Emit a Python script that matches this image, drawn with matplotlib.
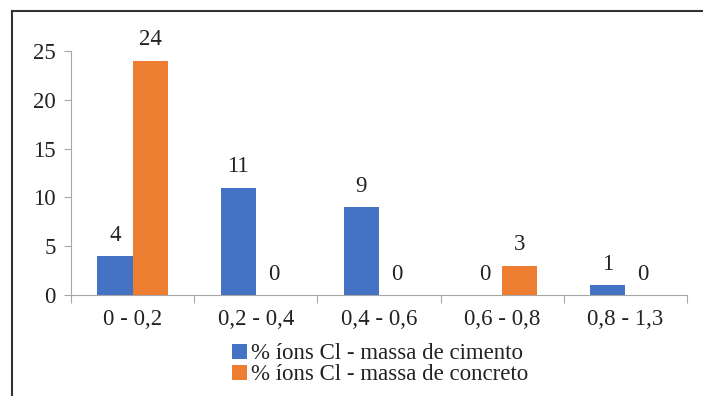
import matplotlib.pyplot as plt
import numpy as np
from matplotlib.lines import Line2D

plt.rcParams['font.family'] = ['Liberation Serif', 'DejaVu Serif']

categories = ["0 - 0,2", "0,2 - 0,4", "0,4 - 0,6", "0,6 - 0,8", "0,8 - 1,3"]
cimento = [4, 11, 9, 0, 1]
concreto = [24, 0, 0, 3, 0]
labels = ["% íons Cl - massa de cimento", "% íons Cl - massa de concreto"]
colors = ["#4472C4", "#ED7D31"]
fs = 16.5

fig = plt.figure(figsize=(7.03, 3.96), dpi=100)
ax = fig.add_axes([71 / 703, 1 - 295 / 396, 616 / 703, 244 / 396])

x = np.arange(len(categories))
w = 0.285
b1 = ax.bar(x - w / 2, cimento, w, color=colors[0], label=labels[0])
b2 = ax.bar(x + w / 2, concreto, w, color=colors[1], label=labels[1])
for bars in (b1, b2):
    for r in bars:
        ax.annotate(str(int(r.get_height())),
                    (r.get_x() + r.get_width() / 2, r.get_height()),
                    xytext=(0, 7.5), textcoords="offset points",
                    ha="center", va="bottom", fontsize=fs, color="#222222")

ax.set_xlim(-0.5, len(categories) - 0.5)
ax.set_ylim(0, 25)
ax.set_yticks([0, 5, 10, 15, 20, 25])
ax.set_xticks(np.arange(len(categories) + 1) - 0.5, minor=False)
ax.set_xticklabels([])
ax.set_xticks(x, minor=True)
ax.set_xticklabels(categories, minor=True)
ax.tick_params(axis="x", which="major", length=6, color="#a6a6a6")
ax.tick_params(axis="x", which="minor", length=0, pad=10, labelsize=fs, labelcolor="#222222")
ax.tick_params(axis="y", length=5, color="#a6a6a6", labelsize=fs, labelcolor="#222222", pad=6)
for s in ("top", "right"):
    ax.spines[s].set_visible(False)
for s in ("left", "bottom"):
    ax.spines[s].set_color("#a6a6a6")

leg = fig.legend(loc="upper left", bbox_to_anchor=(221 / 703, 1 - 332 / 396),
                 frameon=False, fontsize=fs, handlelength=0.65, handleheight=0.65,
                 handletextpad=0.15, labelspacing=0.0, borderpad=0)
for t in leg.get_texts():
    t.set_color("#222222")

# outer frame (cropped on right and bottom)
fig.add_artist(Line2D([12 / 703, 12 / 703], [0, 1 - 11 / 396], transform=fig.transFigure, color="#333333", lw=1.5))
fig.add_artist(Line2D([12 / 703, 1], [1 - 11 / 396, 1 - 11 / 396], transform=fig.transFigure, color="#333333", lw=1.5))

fig.savefig("out.png", dpi=100)
